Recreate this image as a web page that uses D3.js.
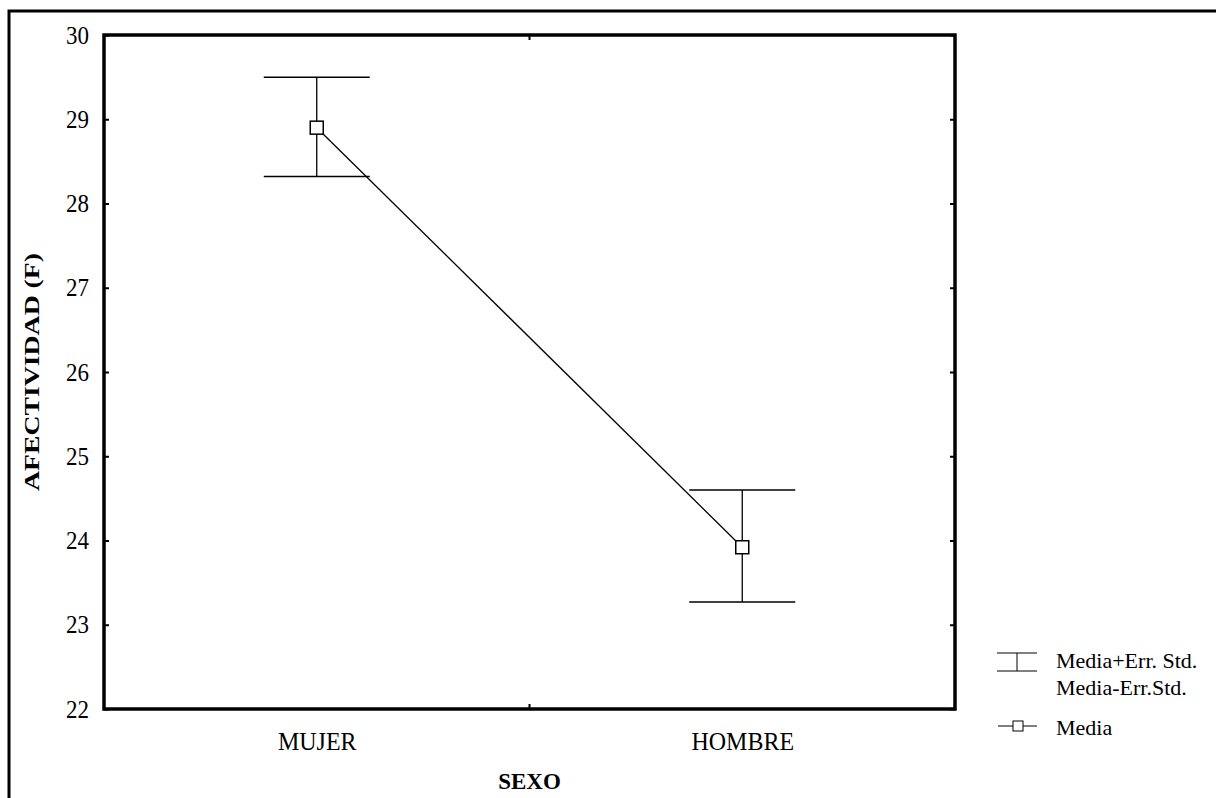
<!DOCTYPE html>
<html><head><meta charset="utf-8">
<script src="https://cdn.jsdelivr.net/npm/d3@7/dist/d3.min.js"></script>
<style>body{margin:0;background:#fff}</style>
</head><body><svg id="c" width="1216" height="798"></svg>
<script>
const categories = ["MUJER", "HOMBRE"];
const means = [28.9, 23.92];
const upper = [29.5, 24.6];
const lower = [28.32, 23.27];
const yTicks = [22, 23, 24, 25, 26, 27, 28, 29, 30];
const legendLabels = ["Media+Err. Std.", "Media-Err.Std.", "Media"];

const FONT = "Liberation Serif";
const svg = d3.select("#c");
const L = 104, R = 955, T = 35, B = 709;
const y = d3.scaleLinear().domain([22, 30]).range([B, T]);
const x = d3.scalePoint().domain(categories).range([L, R]).padding(0.5);

svg.append("rect").attr("x", 9).attr("y", 11).attr("width", 1220).attr("height", 800)
  .attr("fill", "none").attr("stroke", "#000").attr("stroke-width", 3);

const data = categories.map((c, i) => ({c, m: means[i], u: upper[i], l: lower[i]}));
const g = svg.append("g");
const capW = 106;
data.forEach(d => {
  const cx = x(d.c);
  g.append("line").attr("x1", cx).attr("x2", cx).attr("y1", y(d.u)).attr("y2", y(d.l)).attr("stroke", "#000").attr("stroke-width", 1.3);
  [d.u, d.l].forEach(v => g.append("line").attr("x1", cx - capW/2).attr("x2", cx + capW/2).attr("y1", y(v)).attr("y2", y(v)).attr("stroke", "#000").attr("stroke-width", 1.5));
});
g.append("path").datum(data).attr("fill", "none").attr("stroke", "#000").attr("stroke-width", 1.3)
  .attr("d", d3.line().x(d => x(d.c)).y(d => y(d.m)));
g.selectAll("rect.m").data(data).join("rect").attr("class", "m")
  .attr("x", d => x(d.c) - 6.5).attr("y", d => y(d.m) - 6.5).attr("width", 13).attr("height", 13)
  .attr("fill", "#fff").attr("stroke", "#000").attr("stroke-width", 1.5);

const yl = svg.append("g").attr("transform", `translate(${L},0)`)
  .call(d3.axisLeft(y).tickValues(yTicks).tickSize(-5).tickPadding(15).tickFormat(d3.format("d")));
const yr = svg.append("g").attr("transform", `translate(${R},0)`)
  .call(d3.axisRight(y).tickValues(yTicks).tickSize(-5).tickFormat(""));
const xb = svg.append("g").attr("transform", `translate(0,${B})`)
  .call(d3.axisBottom(x).tickSize(0).tickPadding(18));
const mid = (L + R) / 2;
[yl, yr, xb].forEach(a => { a.attr("font-family", FONT).attr("font-size", 23); a.select(".domain").remove(); a.selectAll("line").attr("stroke", "#000").attr("stroke-width", 2); });
yl.selectAll("text").attr("fill", "#000").attr("transform", "scale(1,1.1)");
xb.attr("font-size", 24);
xb.selectAll("text").attr("fill", "#000").attr("dy", "0.85em").attr("transform", "scale(1,1.08)");
svg.append("line").attr("x1", mid).attr("x2", mid).attr("y1", B).attr("y2", B - 5).attr("stroke", "#000").attr("stroke-width", 2);
svg.append("line").attr("x1", mid).attr("x2", mid).attr("y1", T).attr("y2", T + 5).attr("stroke", "#000").attr("stroke-width", 2);

svg.append("rect").attr("x", L).attr("y", T).attr("width", R - L).attr("height", B - T)
  .attr("fill", "none").attr("stroke", "#000").attr("stroke-width", 3.5);

svg.append("text").attr("transform", `translate(39,${(T + B) / 2}) rotate(-90)`).attr("text-anchor", "middle")
  .attr("font-family", FONT).attr("font-size", 22).attr("font-weight", "bold")
  .attr("textLength", 238).attr("lengthAdjust", "spacingAndGlyphs")
  .text("AFECTIVIDAD (F)");
svg.append("text").attr("x", mid).attr("y", 789).attr("text-anchor", "middle")
  .attr("font-family", FONT).attr("font-size", 23).attr("font-weight", "bold").text("SEXO");

const lg = svg.append("g");
lg.append("line").attr("x1", 997).attr("x2", 1037).attr("y1", 653).attr("y2", 653).attr("stroke", "#000");
lg.append("line").attr("x1", 997).attr("x2", 1037).attr("y1", 671).attr("y2", 671).attr("stroke", "#000");
lg.append("line").attr("x1", 1017).attr("x2", 1017).attr("y1", 653).attr("y2", 671).attr("stroke", "#000");
lg.append("line").attr("x1", 998).attr("x2", 1037).attr("y1", 726).attr("y2", 726).attr("stroke", "#000");
lg.append("rect").attr("x", 1013).attr("y", 721).attr("width", 10).attr("height", 10).attr("fill", "#fff").attr("stroke", "#000");
const lgY = [668, 695, 735];
legendLabels.forEach((t, i) => lg.append("text").attr("x", 1056).attr("y", lgY[i])
  .attr("font-family", FONT).attr("font-size", 22).text(t));
</script></body></html>
